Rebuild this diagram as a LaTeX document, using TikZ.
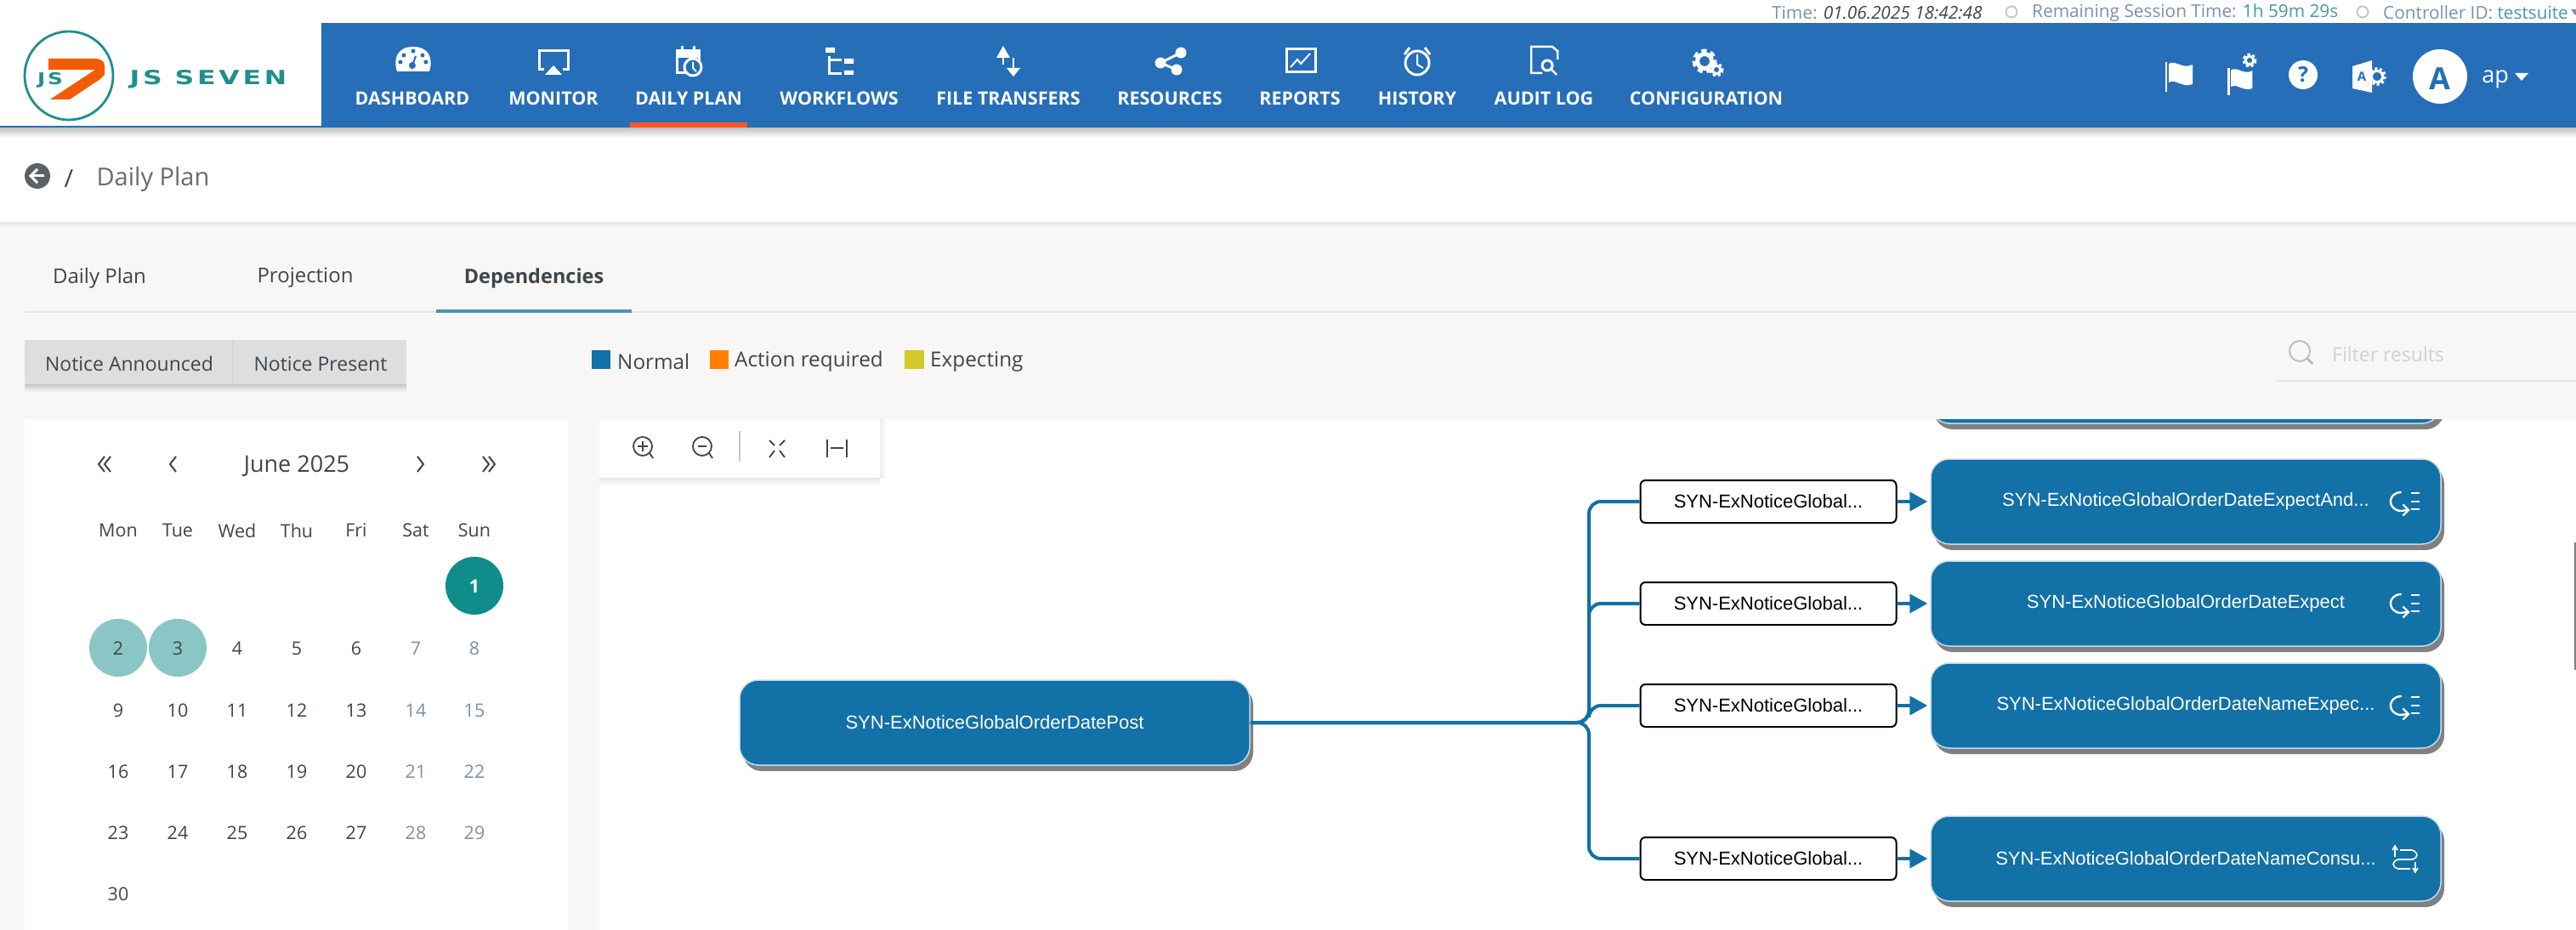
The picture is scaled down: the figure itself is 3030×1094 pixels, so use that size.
\documentclass[tikz,border=0pt]{standalone}
\usepackage{fontspec}
\setmainfont{Open Sans}
\newfontfamily\jobfont{Liberation Sans}
\newfontfamily\logofont[LetterSpace=12]{DejaVu Sans}
\usetikzlibrary{arrows.meta,shadows}
\definecolor{navblue}{HTML}{266EB8}
\definecolor{jobblue}{HTML}{1271A6}
\definecolor{pagegray}{HTML}{F8F7F5}
\definecolor{inkgray}{HTML}{3D464D}
\definecolor{softblue}{HTML}{7F8FA9}
\definecolor{tealtext}{HTML}{4896A8}
\definecolor{logoteal}{HTML}{1F8F8E}
\definecolor{dayteal}{HTML}{108C8A}
\definecolor{daylight}{HTML}{8AC6C5}
\begin{document}
\begin{tikzpicture}[x=1pt,y=-1pt,
	navlbl/.style = { font=\fontsize{21.5}{25}\selectfont\bfseries, text=white },
	toplbl/.style = { font=\fontsize{20.8}{24}\selectfont, text=softblue, anchor=west, inner sep=0 },
	tablbl/.style = { font=\fontsize{24}{27}\selectfont, text=inkgray },
	leglbl/.style = { font=\fontsize{24.3}{27}\selectfont, text=inkgray, anchor=west, inner sep=0 },
	daynum/.style = { font=\fontsize{21.5}{24}\selectfont, text=inkgray },
	dayoff/.style = { daynum, text=softblue },
	job/.style = { draw=jobblue!25!white, line width=1.5pt, fill=jobblue, rounded corners=22pt,
		minimum width=600pt, minimum height=100pt, inner sep=0, text=white,
		font=\jobfont\fontsize{22}{25}\selectfont,
		general shadow={fill=black!50, draw=none, shadow xshift=4pt, shadow yshift=-7pt} },
	board/.style = { draw=black, line width=2pt, fill=white, rounded corners=6pt,
		minimum width=301pt, minimum height=50pt, inner sep=0,
		font=\jobfont\fontsize{22}{25}\selectfont },
	wire/.style = { draw=jobblue, line width=4pt, rounded corners=14pt },
	feed/.style = { draw=jobblue, line width=4pt, shorten >=3pt, -{Triangle[length=21pt,width=22pt]} },
	icon/.style = { draw=white, line width=3pt },
	zoomico/.style = { draw=inkgray, line width=1.8pt },
	expmark/.pic = {
		\draw[white, line width=2.4pt, line cap=round] (-5,-11) .. controls (-21,-10) and (-21,9) .. (-6,11) -- (4,10);
		\draw[white, line width=2.4pt, line cap=round] (-2,4) -- (4,10) -- (-2,16);
		\draw[white, line width=2.6pt] (7,-10) -- (17,-10) (7,0) -- (17,0) (7,9) -- (17,9);
	},
	conmark/.pic = {
		\draw[white, line width=1.6pt] (-12,-2) -- (-12,-14) (-15,-10) -- (-12,-15) -- (-9,-10);
		\draw[white, line width=1.6pt] (-6,-10) -- (8,-10) .. controls (16,-7) and (16,-1) .. (8,1) -- (-8,1) .. controls (-16,3) and (-16,10) .. (-8,12) -- (6,12);
		\draw[white, line width=1.6pt] (12,4) -- (12,16) (9,11) -- (12,16) -- (15,11);
	},
	gearmark/.pic = {
		\draw[white, line width=4pt, dash pattern=on 3pt off 2.5pt] (0,0) circle[radius=8];
		\draw[white, line width=3pt] (0,0) circle[radius=6];
	},
	gearbig/.pic = {
		\draw[white, line width=5pt, dash pattern=on 6pt off 4.5pt] (0,0) circle[radius=12];
		\draw[white, line width=5pt] (0,0) circle[radius=8.5];
	},
	flagmark/.pic = {
		\draw[white, line width=2.5pt] (-15,-15) -- (-15,20);
		\fill[white] (-12,-13) .. controls (-4,-18) and (4,-6) .. (16,-12) -- (16,11) .. controls (4,16) and (-4,4) .. (-12,9) -- cycle;
	}]

  \useasboundingbox (0,0) rectangle (3030,1094);
  \clip (0,0) rectangle (3030,1094);
  \fill[pagegray] (0,0) rectangle (3030,1094);
  \fill[white] (0,0) rectangle (3030,261);
  \shade[top color=black!10, bottom color=pagegray] (0,261) rectangle (3030,267);
  \shade[top color=black!25, bottom color=white] (0,150) rectangle (3030,162);
  \fill[navblue] (0,27) rectangle (3030,150);
  \fill[white] (0,27) rectangle (378,148);
  \fill[white] (29,493) rectangle (668,1094);
  \fill[white] (705,493) rectangle (3030,1094);

  \draw[logoteal, line width=2.8pt] (81,89) circle[radius=52];
  \fill[orange!75!red!95!black] (57,69) -- (112,69) .. controls (120,69) and (123,73) .. (123,78) -- (123,88) -- (118,93) -- (82,117) -- (59,117) -- (112,82) -- (57,82) -- cycle;
  \draw (59,94) node[text=logoteal, inner sep=0, font=\logofont\fontsize{19}{22}\selectfont\bfseries] (logoJs) {\scalebox{1.3}[1]{JS}};
  \draw (245,93) node[text=logoteal, inner sep=0, font=\logofont\fontsize{23}{26}\selectfont\bfseries] (logoName) {\scalebox{1.37}[1]{JS SEVEN}};

  \draw (2084,15) node[toplbl] (topTime) {Time: \textcolor{inkgray}{\textit{01.06.2025 18:42:48}}};
  \draw[black!22, line width=2pt] (2366,14) circle[radius=6.5];
  \draw (2390,15) node[toplbl] (topSession) {Remaining Session Time: \textcolor{tealtext}{1h 59m 29s}};
  \draw[black!22, line width=2pt] (2779,14) circle[radius=6.5];
  \draw (2803,15) node[toplbl] (topCtrl) {Controller ID: \textcolor{tealtext}{testsuite}};
  \fill[softblue] (3024,11) -- (3034,11) -- (3029,18) -- cycle;

  \draw (485,116) node[navlbl] (navDash) {DASHBOARD};
  \draw (651,116) node[navlbl] (navMon) {MONITOR};
  \draw (810,116) node[navlbl] (navPlan) {DAILY PLAN};
  \draw (987,116) node[navlbl] (navFlow) {WORKFLOWS};
  \draw (1186,116) node[navlbl] (navFile) {FILE TRANSFERS};
  \draw (1376,116) node[navlbl] (navRes) {RESOURCES};
  \draw (1529,116) node[navlbl] (navRep) {REPORTS};
  \draw (1667,116) node[navlbl] (navHist) {HISTORY};
  \draw (1816,116) node[navlbl] (navAudit) {AUDIT LOG};
  \draw (2007,116) node[navlbl] (navConf) {CONFIGURATION};
  \fill[red!55!orange!85!white] (741,144) rectangle (879,150);

  \fill[white] (467,84) .. controls (462,68) and (468,55) .. (486,55) .. controls (504,55) and (510,68) .. (505,84) -- cycle;
  \fill[navblue] (475,65) circle[radius=2.5] (486,60) circle[radius=2.5] (497,65) circle[radius=2.5] (471,73) circle[radius=2.5] (501,73) circle[radius=2.5] (485,77) circle[radius=4];
  \draw[navblue, line width=2pt] (485,77) -- (489,66);

  \draw[icon] (640,82) -- (634,82) -- (634,60) -- (668,60) -- (668,82) -- (662,82);
  \fill[white] (641,88) -- (651,77) -- (661,88) -- cycle;

  \draw[icon] (796,60) rectangle (822,86);
  \fill[white] (795,59) rectangle (823,68);
  \draw[icon] (802,54) -- (802,60) (816,54) -- (816,60);
  \draw[icon, fill=navblue] (815,79) circle[radius=10];
  \draw[white, line width=2pt] (815,73) -- (815,80) -- (819,84);

  \fill[white] (971,56) rectangle (982,62) (993,69) rectangle (1004,75) (993,83) rectangle (1004,88);
  \draw[icon] (975,66) -- (975,87) -- (990,87) (975,71) -- (990,71);

  \draw[white, line width=2.5pt] (1180,66) -- (1180,76) (1192,68) -- (1192,82);
  \fill[white] (1172,68) -- (1180,54) -- (1188,68) -- cycle (1184,80) -- (1192,90) -- (1200,80) -- cycle;

  \draw[white, line width=3pt] (1389,62) -- (1365,74) -- (1384,82);
  \fill[white] (1389,62) circle[radius=6.5] (1365,74) circle[radius=6.5] (1384,82) circle[radius=6.5];

  \draw[icon] (1513,58) rectangle (1547,85);
  \draw[white, line width=2pt] (1518,79) -- (1526,70) -- (1530,75) -- (1541,63);

  \draw[icon] (1667,74) circle[radius=14];
  \draw[white, line width=2pt] (1667,64) -- (1667,76) -- (1674,80);
  \draw[white, line width=3pt] (1652,64) -- (1658,56) (1682,64) -- (1676,56);

  \draw[white, line width=2.5pt] (1832,70) -- (1832,60) -- (1826,55) -- (1801,55) -- (1801,86) -- (1814,86);
  \draw[icon] (1820,77) circle[radius=6];
  \draw[white, line width=2.5pt] (1825,82) -- (1831,88);

  \path (2005,72) pic {gearbig};
  \path (2019,82) pic[scale=.8] {gearmark};

  \path (2563,88) pic {flagmark};
  \path (2635,94) pic[scale=.9] {flagmark};
  \path (2646,71) pic[scale=.8] {gearmark};
  \fill[white] (2709,88) circle[radius=17];
  \draw (2709,88) node[text=navblue, inner sep=0, font=\fontsize{25}{28}\selectfont\bfseries] (helpMark) {?};
  \fill[white] (2767,78) -- (2790,71) -- (2790,109) -- (2767,104) -- cycle;
  \path (2796,90) pic[scale=1.1] {gearmark};
  \draw (2778,90) node[text=navblue, inner sep=0, font=\fontsize{15}{18}\selectfont\bfseries] (tranMark) {A};
  \fill[white] (2870,90) circle[radius=32];
  \draw (2870,93) node[text=navblue, inner sep=0, font=\fontsize{36}{40}\selectfont\bfseries] (avatar) {A};
  \draw (2935,93) node[text=white, inner sep=0, font=\fontsize{27}{30}\selectfont] (userName) {ap};
  \fill[white] (2958,86) -- (2974,86) -- (2966,95) -- cycle;

  \fill[inkgray!85!white] (44,207) circle[radius=15];
  \draw[white, line width=3pt] (36,207) -- (52,207);
  \draw[white, line width=3pt] (44,199) -- (36,207) -- (44,215);
  \draw (81,210) node[text=inkgray, font=\fontsize{29}{32}\selectfont] (crumbBar) {/};
  \draw (180,211) node[text=black!58, font=\fontsize{29}{32}\selectfont] (crumbName) {Daily Plan};

  \draw (117,327) node[tablbl] (tabPlan) {Daily Plan};
  \draw (359,327) node[tablbl] (tabProj) {Projection};
  \draw (628,327) node[tablbl, font=\fontsize{23.5}{27}\selectfont\bfseries] (tabDeps) {Dependencies};
  \draw[black!10, line width=2pt] (29,367) -- (3030,367);
  \fill[tealtext] (513,364) rectangle (743,368);

  \shade[top color=black!22, bottom color=pagegray] (29,452) rectangle (478,461);
  \fill[black!13] (29,400) rectangle (478,452);
  \draw[black!16, line width=1.5pt] (274,400) -- (274,452);
  \draw (152,428) node[tablbl, font=\fontsize{23}{27}\selectfont] (btnAnn) {Notice Announced};
  \draw (377,428) node[tablbl, font=\fontsize{23}{27}\selectfont] (btnPres) {Notice Present};

  \fill[jobblue] (696,412) rectangle (718,434);
  \draw (726,425) node[leglbl] (legNorm) {Normal};
  \fill[orange] (835,412) rectangle (857,434);
  \draw (864,425) node[leglbl] (legAct) {Action required};
  \fill[yellow!80!black] (1064,412) rectangle (1087,434);
  \draw (1094,425) node[leglbl] (legExp) {Expecting};

  \draw[black!25, line width=2pt] (2705,413) circle[radius=12];
  \draw[black!30, line width=2.5pt] (2713,421) -- (2720,428);
  \draw (2743,417) node[anchor=west, inner sep=0, text=black!18, font=\fontsize{23}{27}\selectfont] (filterTxt) {Filter results};
  \draw[black!10, line width=1.5pt] (2679,448) -- (3030,448);

  \draw (349,548) node[tablbl, font=\fontsize{27}{30}\selectfont] (calTitle) {June 2025};
  \draw[inkgray, line width=2pt] (123,537) -- (116,546) -- (123,555) (130,537) -- (123,546) -- (130,555);
  \draw[inkgray, line width=2pt] (207,537) -- (200,546) -- (207,555);
  \draw[inkgray, line width=2pt] (491,537) -- (498,546) -- (491,555);
  \draw[inkgray, line width=2pt] (568,537) -- (575,546) -- (568,555) (575,537) -- (582,546) -- (575,555);

  \draw (139,624) node[daynum] (wMon) {Mon};
  \draw (209,624) node[daynum] (wTue) {Tue};
  \draw (279,624) node[daynum] (wWed) {Wed};
  \draw (349,624) node[daynum] (wThu) {Thu};
  \draw (419,624) node[daynum] (wFri) {Fri};
  \draw (489,624) node[daynum] (wSat) {Sat};
  \draw (558,624) node[daynum] (wSun) {Sun};
  \fill[dayteal] (558,689) circle[radius=34];
  \fill[daylight] (139,762) circle[radius=34];
  \fill[daylight] (209,762) circle[radius=34];
  \draw (558,690) node[daynum, text=white, font=\fontsize{21.5}{24}\selectfont\bfseries] (d1) {1};
  \draw (139,763) node[daynum] (d2) {2};
  \draw (209,763) node[daynum] (d3) {3};
  \draw (279,763) node[daynum] (d4) {4};
  \draw (349,763) node[daynum] (d5) {5};
  \draw (419,763) node[daynum] (d6) {6};
  \draw (489,763) node[dayoff] (d7) {7};
  \draw (558,763) node[dayoff] (d8) {8};
  \draw (139,836) node[daynum] (d9) {9};
  \draw (209,836) node[daynum] (d10) {10};
  \draw (279,836) node[daynum] (d11) {11};
  \draw (349,836) node[daynum] (d12) {12};
  \draw (419,836) node[daynum] (d13) {13};
  \draw (489,836) node[dayoff] (d14) {14};
  \draw (558,836) node[dayoff] (d15) {15};
  \draw (139,908) node[daynum] (d16) {16};
  \draw (209,908) node[daynum] (d17) {17};
  \draw (279,908) node[daynum] (d18) {18};
  \draw (349,908) node[daynum] (d19) {19};
  \draw (419,908) node[daynum] (d20) {20};
  \draw (489,908) node[dayoff] (d21) {21};
  \draw (558,908) node[dayoff] (d22) {22};
  \draw (139,980) node[daynum] (d23) {23};
  \draw (209,980) node[daynum] (d24) {24};
  \draw (279,980) node[daynum] (d25) {25};
  \draw (349,980) node[daynum] (d26) {26};
  \draw (419,980) node[daynum] (d27) {27};
  \draw (489,980) node[dayoff] (d28) {28};
  \draw (558,980) node[dayoff] (d29) {29};
  \draw (139,1052) node[daynum] (d30) {30};

  \begin{scope}
    \clip (705,493) rectangle (3030,1094);
    \draw (2571,448) node[job] (expTop) {};
  \end{scope}
  \shade[top color=black!10, bottom color=white] (705,562) rectangle (1035,572);
  \shade[left color=black!7, right color=white] (1035,493) rectangle (1043,562);
  \fill[white] (705,493) rectangle (1035,562);
  \draw[zoomico] (756,525) circle[radius=11];
  \draw[zoomico] (764,533) -- (768,539) (750,525) -- (762,525) (756,519) -- (756,531);
  \draw[zoomico] (826,525) circle[radius=11];
  \draw[zoomico] (834,533) -- (838,539) (821,525) -- (831,525);
  \draw[black!22, line width=1.5pt] (870,507) -- (870,543);
  \draw[zoomico] (905,518) -- (911,524) (923,518) -- (917,524) (905,538) -- (911,530) (923,538) -- (917,530);
  \draw[zoomico] (973,517) -- (973,538) (996,517) -- (996,538) (977,527) -- (992,527);

  \draw (1170,850) node[job] (post) {SYN-ExNoticeGlobalOrderDatePost};
  \draw (2571,590) node[job] (expAnd) {SYN-ExNoticeGlobalOrderDateExpectAnd...};
  \draw (2571,710) node[job] (expOne) {SYN-ExNoticeGlobalOrderDateExpect};
  \draw (2571,830) node[job] (expName) {SYN-ExNoticeGlobalOrderDateNameExpec...};
  \draw (2571,1010) node[job] (conName) {SYN-ExNoticeGlobalOrderDateNameConsu...};
  \draw (2080,590) node[board] (boardA) {SYN-ExNoticeGlobal...};
  \draw (2080,710) node[board] (boardB) {SYN-ExNoticeGlobal...};
  \draw (2080,830) node[board] (boardC) {SYN-ExNoticeGlobal...};
  \draw (2080,1010) node[board] (boardD) {SYN-ExNoticeGlobal...};
  \coordinate (trunk) at (1869,850);
  \draw[wire] (post.east) -- (trunk) |- (boardA.west);
  \draw[wire] (post.east) -- (trunk) |- (boardB.west);
  \draw[wire] (post.east) -- (trunk) |- (boardC.west);
  \draw[wire] (post.east) -- (trunk) |- (boardD.west);
  \draw[feed] (boardA.east) -- (expAnd.west);
  \draw[feed] (boardB.east) -- (expOne.west);
  \draw[feed] (boardC.east) -- (expName.west);
  \draw[feed] (boardD.east) -- (conName.west);
  \path (2829,590) pic {expmark};
  \path (2829,710) pic {expmark};
  \path (2829,830) pic {expmark};
  \path (2829,1010) pic {conmark};
  \fill[black!50] (3028,638) rectangle (3030,788);
\end{tikzpicture}
\end{document}
